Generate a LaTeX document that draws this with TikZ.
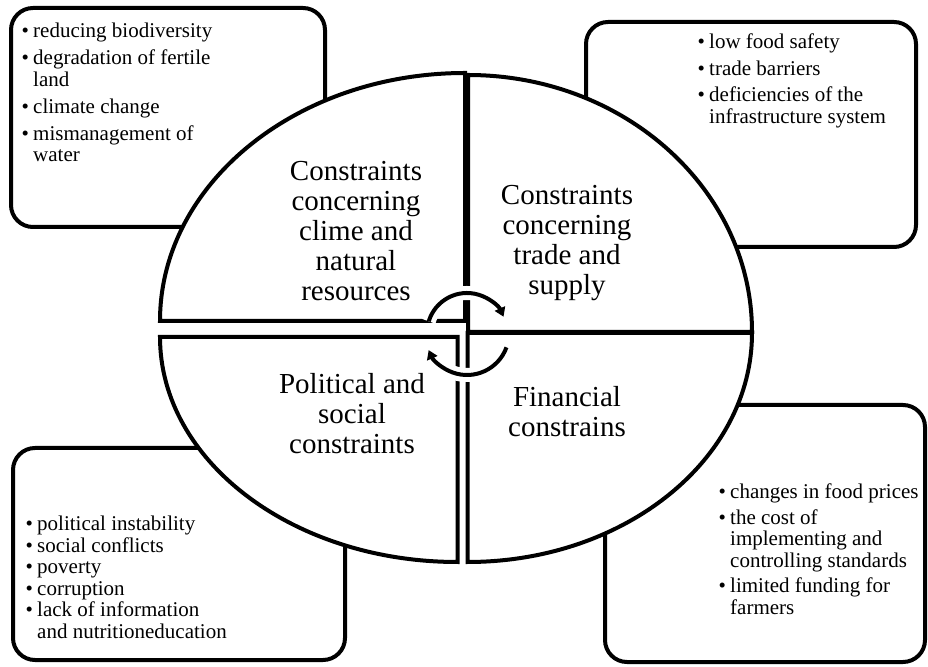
\documentclass[tikz,border=0pt]{standalone}
\usepackage{fontspec}
\setmainfont{Liberation Serif}
\usetikzlibrary{arrows.meta}
\newcommand{\bu}{\makebox[11.7pt][l]{•}}
\newcommand{\bi}{\hspace*{11.7pt}}
\begin{document}
\begin{tikzpicture}[x=1pt,y=1pt,
  box/.style={draw=black, line width=4pt, rounded corners=22pt, fill=white},
  quad/.style={draw=black, line width=4pt, fill=white},
  qlabel/.style={inner sep=0pt, anchor=base, font=\fontsize{29}{30}\selectfont},
  blist/.style={inner sep=0pt, anchor=base west, font=\fontsize{21}{21.5}\selectfont},
  casing/.style={draw=white, line width=14pt},
  cyc/.style={draw=black, line width=4pt, -{Triangle[length=9pt,width=11pt]}}
]
\useasboundingbox (0,0) rectangle (928,666);
\fill[white] (0,0) rectangle (928,666);

% outer boxes
\draw[box] (11,439) rectangle (325,658);
\draw[box] (586,419) rectangle (916,644);
\draw[box] (13,6) rectangle (345,218);
\draw[box] (605,4) rectangle (925,261);

% quadrants
\draw[quad] (465,345) -- (160,345) arc[start angle=180, end angle=90, x radius=305, y radius=248] -- cycle;
\draw[quad] (468,334) -- (468,591) arc[start angle=90, end angle=0, x radius=284, y radius=257] -- cycle;
\draw[quad] (457.5,329) -- (160,329) arc[start angle=180, end angle=270, x radius=297.5, y radius=225] -- cycle;
\draw[quad] (467.5,333) -- (467.5,104) arc[start angle=270, end angle=360, x radius=284.5, y radius=229] -- cycle;

% cycle arrows
\coordinate (cc) at (467,333);
\path[casing] ([shift={(163:40)}]cc) arc[start angle=163, end angle=24, radius=40];
\path[casing] ([shift={(-20:42)}]cc) arc[start angle=-20, end angle=-156, radius=42];
\draw[cyc] ([shift={(163:40)}]cc) arc[start angle=163, end angle=24, radius=40];
\draw[cyc] ([shift={(-20:42)}]cc) arc[start angle=-20, end angle=-156, radius=42];

% quadrant labels
\node[qlabel] (qtl) at (356,485) {\begin{tabular}[t]{@{}c@{}}Constraints\\concerning\\clime and\\natural\\resources\end{tabular}};
\node[qlabel] (qtr) at (567,461) {\begin{tabular}[t]{@{}c@{}}Constraints\\concerning\\trade and\\supply\end{tabular}};
\node[qlabel] (qbl) at (352,272) {\begin{tabular}[t]{@{}c@{}}Political and\\social\\constraints\end{tabular}};
\node[qlabel] (qbr) at (567,259) {\begin{tabular}[t]{@{}c@{}}Financial\\constrains\end{tabular}};

% bullet lists
\node[blist] (ltl) at (21.3,628) {\begin{tabular}[t]{@{}l@{}}\bu reducing biodiversity\\[5.5pt]\bu degradation of fertile\\\bi land\\[5.5pt]\bu climate change\\[5.5pt]\bu mismanagement of\\\bi water\end{tabular}};
\node[blist] (ltr) at (697.3,617) {\begin{tabular}[t]{@{}l@{}}\bu low food safety\\[5pt]\bu trade barriers\\[5pt]\bu deficiencies of the\\\bi infrastructure system\end{tabular}};
\node[blist] (lbl) at (25.3,135) {\begin{tabular}[t]{@{}l@{}}\bu political instability\\\bu social conflicts\\\bu poverty\\\bu corruption\\\bu lack of information\\\bi and nutritioneducation\end{tabular}};
\node[blist] (lbr) at (718.3,167) {\begin{tabular}[t]{@{}l@{}}\bu changes in food prices\\[4pt]\bu the cost of\\\bi implementing and\\\bi controlling standards\\[4pt]\bu limited funding for\\\bi farmers\end{tabular}};
\end{tikzpicture}
\end{document}
